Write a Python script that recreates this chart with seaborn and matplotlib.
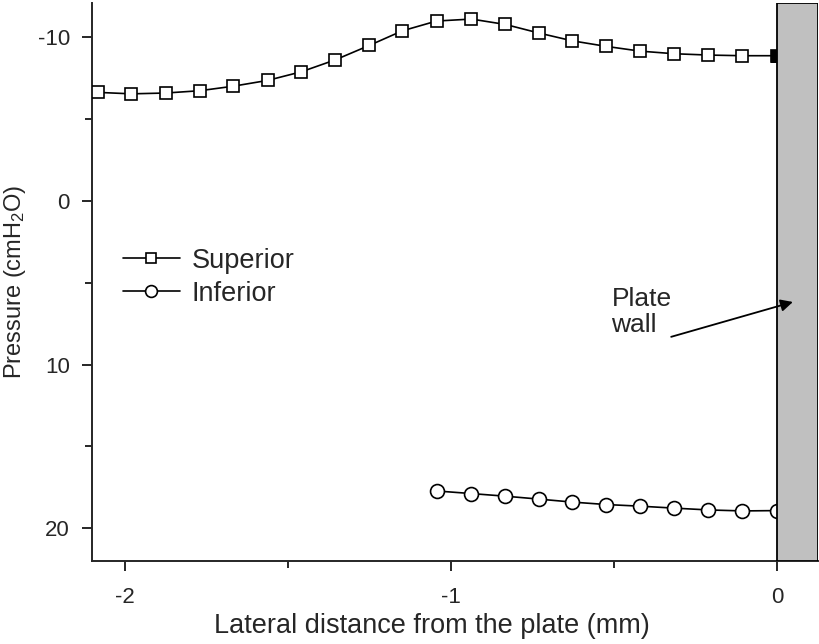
import matplotlib
matplotlib.use("Agg")
import matplotlib.pyplot as plt
import pandas as pd
import seaborn as sns

# valores
sup_x = [-2.083, -1.979, -1.874, -1.770, -1.669, -1.562, -1.458, -1.354, -1.250, -1.149,
         -1.044, -0.937, -0.833, -0.729, -0.628, -0.524, -0.420, -0.315, -0.211, -0.107, 0.0]
sup_y = [-6.64, -6.55, -6.60, -6.74, -7.01, -7.37, -7.90, -8.63, -9.51, -10.40,
         -11.00, -11.12, -10.79, -10.26, -9.79, -9.45, -9.16, -9.00, -8.92, -8.88, -8.88]
inf_x = [-1.044, -0.937, -0.833, -0.729, -0.628, -0.524, -0.420, -0.315, -0.211, -0.107, 0.0]
inf_y = [17.72, 17.88, 18.04, 18.22, 18.40, 18.55, 18.65, 18.77, 18.88, 18.94, 18.92]

sns.set_style("ticks")
plt.rcParams['font.family'] = ['Liberation Sans', 'DejaVu Sans']
plt.rcParams['mathtext.default'] = 'regular'

df_sup = pd.DataFrame({'x': sup_x, 'y': sup_y})
df_inf = pd.DataFrame({'x': inf_x, 'y': inf_y})

fig = plt.figure(figsize=(8.19, 6.44), dpi=100)
ax = fig.add_axes([0.1123, 0.1289, 0.8865, 0.8664])

sns.lineplot(data=df_sup, x='x', y='y', ax=ax, color='black', lw=1.2, marker='s',
             markersize=9, markerfacecolor='white', markeredgecolor='black',
             markeredgewidth=1.2, label='Superior', sort=False, zorder=3)
sns.lineplot(data=df_inf, x='x', y='y', ax=ax, color='black', lw=1.2, marker='o',
             markersize=10, markerfacecolor='white', markeredgecolor='black',
             markeredgewidth=1.2, label='Inferior', sort=False, zorder=3)
# punto en la pared
sns.scatterplot(x=sup_x[-1:], y=sup_y[-1:], ax=ax, marker='s', s=81, color='black',
                edgecolor='black', zorder=4, legend=False)

# pared de la placa
ax.axvspan(0, 0.125, color='#c0c0c0', ec='black', lw=1.3, zorder=5)

ax.set_xlim(-2.1, 0.125)
ax.set_ylim(22.0, -12.1)
ax.set_xticks([-2, -1, 0])
ax.set_xticklabels(['-2', '-1', '0'])
ax.set_xticks([-1.5, -0.5], minor=True)
ax.set_yticks([-10, 0, 10, 20])
ax.set_yticklabels(['-10', '0', '10', '20'])
ax.set_yticks([-5, 5, 15], minor=True)
ax.tick_params(which='major', length=7, width=1.4, labelsize=16, direction='out', pad=9)
ax.tick_params(axis='x', which='major', pad=12)
ax.tick_params(which='minor', length=5, width=1.4, direction='out')
for s in ['left', 'bottom']:
    ax.spines[s].set_linewidth(1.4)
sns.despine(ax=ax)

ax.set_xlabel('Lateral distance from the plate (mm)', fontsize=19.5)
ax.xaxis.set_label_coords(0.468, -0.093)
ax.set_ylabel('Pressure (cmH$_2$O)', fontsize=17, labelpad=7)

ax.legend(loc='upper left', bbox_to_anchor=(0.009, 0.605), frameon=False, fontsize=19.5,
          handlelength=2.1, handletextpad=0.45, labelspacing=0.25, markerscale=0.85)

ax.text(-0.508, 6.78, 'Plate\nwall', fontsize=19, va='center', ha='left',
        linespacing=1.15, zorder=6)
ax.annotate('', xy=(0.048, 6.17), xytext=(-0.325, 8.3),
            arrowprops=dict(arrowstyle='-|>', color='black', lw=1.3,
                            mutation_scale=18, shrinkA=0, shrinkB=0),
            zorder=6)

fig.savefig('out.png', dpi=100)
